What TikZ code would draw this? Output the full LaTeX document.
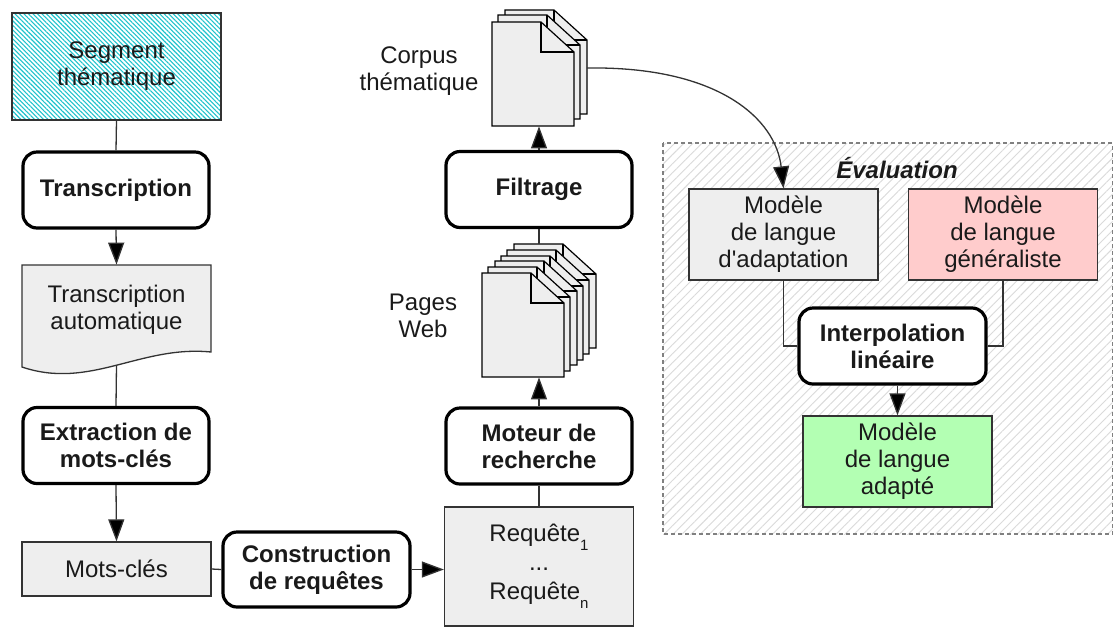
\documentclass[tikz,border=0pt]{standalone}
\usepackage{fontspec}
\setmainfont{Liberation Sans}[Ligatures=TeXOff]
\usetikzlibrary{arrows.meta,patterns.meta,calc}
\definecolor{txt}{HTML}{1A1A1A}
\definecolor{boxgray}{HTML}{EEEEEE}
\definecolor{bdr}{HTML}{333333}
\definecolor{lin}{HTML}{333333}
\definecolor{hcyan}{RGB}{30,195,205}
\definecolor{hgray}{HTML}{DADADA}
\definecolor{redfill}{HTML}{FFCCCC}
\definecolor{greenfill}{HTML}{B3FFB3}
\newcommand\docpg[2]{%
  \filldraw[fill=boxgray,draw=black,line width=0.6pt] (#1,#2) -- ++(49,0) -- ++(33,30) -- ++(0,74) -- ++(-82,0) -- cycle;
  \draw[line width=0.6pt] (#1+49,#2) -- ++(0,30) -- ++(33,0);}
\newcommand\subx[1]{\raisebox{-4.5pt}{\fontsize{7.5}{8}\selectfont #1}}
\begin{document}
\begin{tikzpicture}[x=0.5pt,y=-0.5pt,
  base/.style={font=\fontsize{12}{13.5}\selectfont, text=txt, align=center, inner sep=0pt},
  proc/.style={base, font=\fontsize{12}{13.5}\selectfont\bfseries, draw=black, line width=1.6pt,
    rounded corners=7pt, fill=white, minimum width=93pt, minimum height=38pt},
  databox/.style={base, draw=bdr, line width=0.65pt, fill=boxgray, minimum width=94.5pt},
  conn/.style={draw=lin, line width=0.65pt},
  arr/.style={conn, -{Triangle[length=11pt,width=8pt,fill=black]}}]
\useasboundingbox (0,0) rectangle (1114,628);
% Evaluation region
\path[preaction={fill=white}, pattern={Lines[angle=45,distance=3.2pt,line width=0.45pt]}, pattern color=hgray]
  (663,143) rectangle (1112.5,534);
\draw[draw=gray, line width=0.6pt, dash pattern=on 2pt off 1.5pt] (663,143) rectangle (1112.5,534);
\node[base, font=\fontsize{12}{13.5}\selectfont\bfseries\itshape] (evaltitle) at (897,168) {Évaluation};

% left column
\node[base, draw=bdr, line width=0.65pt, minimum width=104.5pt, minimum height=53.5pt,
  preaction={fill=white}, pattern={Lines[angle=-45,distance=1.6pt,line width=0.55pt]}, pattern color=hcyan]
  (seg) at (116.5,66.5) {Segment\\thématique};
\node[proc] (trans) at (116,190) {Transcription};
\filldraw[fill=boxgray, draw=bdr, line width=0.65pt] (22,265) -- (211,265) -- (211,352)
  .. controls (140,345) and (90,390) .. (22,367) -- cycle;
\node[base, minimum width=94.5pt, minimum height=45pt] (ta) at (116.5,310) {Transcription\\automatique};
\coordinate (tabot) at (116.5,365);
\node[proc] (extr) at (116,445.5) {Extraction de\\mots-clés};
\node[databox, minimum height=27pt] (mots) at (116.5,569) {Mots-clés};
\node[proc, minimum width=93.5pt, minimum height=37.5pt] (constr) at (316.5,569.5) {Construction\\de requêtes};

% middle column
\node[databox, minimum height=59.5pt] (req) at (539,566.5) {Requête\subx{1}\\[1pt]...\\[1pt]Requête\subx{n}};
\node[proc] (moteur) at (539,446) {Moteur de\\recherche};
\node[proc] (filtr) at (539,189.5) {Filtrage};

% pages web stack
\docpg{514}{244}\docpg{507}{250}\docpg{501}{256}\docpg{495}{261}\docpg{488}{267}\docpg{482}{273}
\node[inner sep=0pt, minimum width=57pt, minimum height=66.5pt] (pages) at (539,310.5) {};
\node[base] (pageslbl) at (423,316) {Pages\\Web};

% corpus stack
\docpg{505}{10}\docpg{498}{15}\docpg{492}{22}
\node[inner sep=0pt, minimum width=47.5pt, minimum height=58pt] (corpus) at (539,68) {};
\node[base] (corpuslbl) at (419,71) {Corpus\\thématique};

% evaluation boxes
\node[databox, minimum height=45.5pt] (madapt) at (783.5,234.5) {Modèle\\de langue\\d'adaptation};
\node[databox, fill=redfill, minimum height=45.5pt] (mgen) at (1003,234.5) {Modèle\\de langue\\généraliste};
\node[proc, minimum width=93.5pt] (interp) at (892.5,346) {Interpolation\\linéaire};
\node[databox, fill=greenfill, minimum height=45.5pt] (madapte) at (897.5,461.5) {Modèle\\de langue\\adapté};

% connectors
\draw[conn] (seg.south) -- (trans.north);
\draw[arr] (trans.south) -- (ta.north);
\draw[conn] (tabot) -- (extr.north);
\draw[arr] (extr.south) -- (mots.north);
\draw[conn] (mots.east) -- (constr.west);
\draw[arr] (constr.east) -- (constr.east -| req.west);
\draw[conn] (req.north) -- (moteur.south);
\draw[arr] (moteur.north) -- (pages.south);
\draw[conn] (pages.north) -- (filtr.south);
\draw[arr] (filtr.north) -- (corpus.south);
\draw[arr] (corpus.east) .. controls (720,66) and (776,120) .. (madapt.north);
\draw[conn] (madapt.south) |- (interp.west);
\draw[conn] (mgen.south) |- (interp.east);
\draw[arr] (interp.south -| madapte.north) -- (madapte.north);
\end{tikzpicture}
\end{document}
